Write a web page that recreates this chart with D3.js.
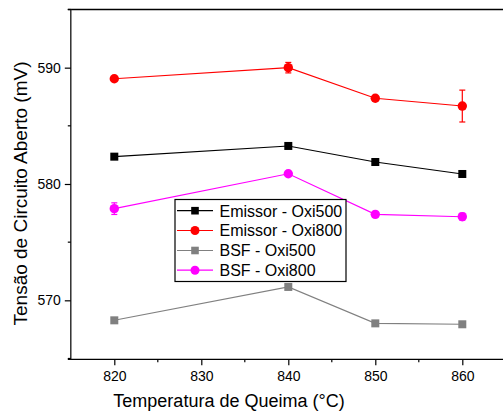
<!DOCTYPE html>
<html>
<head>
<meta charset="utf-8">
<script src="https://cdn.jsdelivr.net/npm/d3@7"></script>
<style>
  html, body { margin: 0; padding: 0; background: #fff; }
  svg { display: block; }
  text { font-family: "Liberation Sans", Arial, sans-serif; fill: #000; }
</style>
</head>
<body>
<svg id="chart" width="503" height="417"></svg>
<script>
// ---- Data ----
const temperatures = [820, 840, 850, 860];
const emissorOxi500 = [582.35, 583.27, 581.89, 580.86];
const emissorOxi800 = [589.05, 590.0, 587.37, 586.70];
const bsfOxi500 = [568.28, 571.15, 568.02, 567.94];
const bsfOxi800 = [577.88, 580.88, 577.39, 577.19];
const emissorOxi500Err = [0, 0, 0, 0];
const emissorOxi800Err = [0, 0.45, 0, 1.37];
const bsfOxi500Err = [0, 0, 0, 0];
const bsfOxi800Err = [0.5, 0, 0, 0.3];
const seriesNames = ["Emissor - Oxi500", "Emissor - Oxi800", "BSF - Oxi500", "BSF - Oxi800"];
const xTicks = [820, 830, 840, 850, 860];
const yTicks = [570, 580, 590];
const xTitle = "Temperatura de Queima (°C)";
const yTitle = "Tensão de Circuito Aberto (mV)";

const series = [
  { name: seriesNames[0], values: emissorOxi500, err: emissorOxi500Err, color: "#000000", shape: "square" },
  { name: seriesNames[1], values: emissorOxi800, err: emissorOxi800Err, color: "#ff0000", shape: "circle" },
  { name: seriesNames[2], values: bsfOxi500, err: bsfOxi500Err, color: "#808080", shape: "square" },
  { name: seriesNames[3], values: bsfOxi800, err: bsfOxi800Err, color: "#ff00ff", shape: "circle" }
];

// ---- Layout ----
const svg = d3.select("#chart");
const pLeft = 70.8, pRight = 505.8, pTop = 9.5, pBottom = 359.3;

const x = d3.scaleLinear().domain([815, 865]).range([pLeft, pRight]);
const y = d3.scaleLinear().domain([564.93, 595]).range([pBottom, pTop]);

// Frame top line
svg.append("line").attr("x1", pLeft - 3).attr("x2", 503).attr("y1", pTop).attr("y2", pTop)
  .attr("stroke", "#000").attr("stroke-width", 1.3);

// X axis
const xAxis = d3.axisBottom(x).tickValues(xTicks).tickFormat(d3.format("d")).tickSize(6).tickPadding(6);
const gx = svg.append("g").attr("transform", `translate(0,${pBottom})`).call(xAxis);
gx.select(".domain").attr("d", `M${pLeft - 3},0H503`).attr("stroke", "#000").attr("stroke-width", 1.3);
gx.selectAll(".tick line").attr("stroke", "#000").attr("stroke-width", 1.2);
gx.selectAll(".tick text").style("font-size", "14px").attr("font-family", "Liberation Sans, Arial, sans-serif");
// minor x ticks
const xMinor = [825, 835, 845, 855];
svg.append("g").selectAll("line").data(xMinor).join("line")
  .attr("x1", d => x(d)).attr("x2", d => x(d)).attr("y1", pBottom).attr("y2", pBottom + 3)
  .attr("stroke", "#000").attr("stroke-width", 1.2);

// Y axis
const yAxis = d3.axisLeft(y).tickValues(yTicks).tickFormat(d3.format("d")).tickSize(6).tickPadding(4);
const gy = svg.append("g").attr("transform", `translate(${pLeft},0)`).call(yAxis);
gy.select(".domain").attr("d", `M0,${pTop}V${pBottom}`).attr("stroke", "#222").attr("stroke-width", 1.4);
gy.selectAll(".tick line").attr("stroke", "#000").attr("stroke-width", 1.2);
gy.selectAll(".tick text").style("font-size", "14px").attr("font-family", "Liberation Sans, Arial, sans-serif");
const yMinor = [565, 575, 585, 595];
svg.append("g").selectAll("line").data(yMinor).join("line")
  .attr("x1", pLeft - 3).attr("x2", pLeft).attr("y1", d => y(d)).attr("y2", d => y(d))
  .attr("stroke", "#000").attr("stroke-width", 1.2);

// Axis titles
svg.append("text").attr("x", 229).attr("y", 407).attr("text-anchor", "middle")
  .style("font-size", "18px").text(xTitle);
svg.append("text").attr("transform", "translate(27,193.5) rotate(-90)").attr("text-anchor", "middle")
  .style("font-size", "19px").text(yTitle);

// Series
const line = d3.line().x(d => x(d.t)).y(d => y(d.v));
series.forEach(s => {
  const pts = temperatures.map((t, i) => ({ t, v: s.values[i], e: s.err[i] }));
  const g = svg.append("g");
  g.append("path").datum(pts).attr("d", line).attr("fill", "none")
    .attr("stroke", s.color).attr("stroke-width", 1.1);
  // error bars
  const eb = pts.filter(p => p.e > 0);
  g.selectAll("line.eb").data(eb).join("line").attr("class", "eb")
    .attr("x1", d => x(d.t)).attr("x2", d => x(d.t))
    .attr("y1", d => y(d.v - d.e)).attr("y2", d => y(d.v + d.e))
    .attr("stroke", s.color).attr("stroke-width", 1.2);
  g.selectAll("line.capT").data(eb).join("line").attr("class", "capT")
    .attr("x1", d => x(d.t) - 3).attr("x2", d => x(d.t) + 3)
    .attr("y1", d => y(d.v + d.e)).attr("y2", d => y(d.v + d.e))
    .attr("stroke", s.color).attr("stroke-width", 1.2);
  g.selectAll("line.capB").data(eb).join("line").attr("class", "capB")
    .attr("x1", d => x(d.t) - 3).attr("x2", d => x(d.t) + 3)
    .attr("y1", d => y(d.v - d.e)).attr("y2", d => y(d.v - d.e))
    .attr("stroke", s.color).attr("stroke-width", 1.2);
  // markers
  if (s.shape === "square") {
    g.selectAll("rect").data(pts).join("rect")
      .attr("x", d => x(d.t) - 4).attr("y", d => y(d.v) - 4)
      .attr("width", 8).attr("height", 8).attr("fill", s.color);
  } else {
    g.selectAll("circle").data(pts).join("circle")
      .attr("cx", d => x(d.t)).attr("cy", d => y(d.v)).attr("r", 4.7).attr("fill", s.color);
  }
});

// Legend
const lg = svg.append("g");
lg.append("rect").attr("x", 175).attr("y", 199.5).attr("width", 171).attr("height", 82)
  .attr("fill", "#fff").attr("stroke", "#000").attr("stroke-width", 1.2);
const rowY = [210.7, 230.5, 250.5, 270.2];
series.forEach((s, i) => {
  const yy = rowY[i];
  lg.append("line").attr("x1", 177).attr("x2", 213).attr("y1", yy).attr("y2", yy)
    .attr("stroke", s.color).attr("stroke-width", 1.2);
  if (s.shape === "square") {
    lg.append("rect").attr("x", 195 - 3.8).attr("y", yy - 3.8).attr("width", 7.6).attr("height", 7.6).attr("fill", s.color);
  } else {
    lg.append("circle").attr("cx", 195).attr("cy", yy).attr("r", 4.5).attr("fill", s.color);
  }
  lg.append("text").attr("x", 219.5).attr("y", yy + 5.8).style("font-size", "16px").text(s.name);
});
</script>
</body>
</html>
